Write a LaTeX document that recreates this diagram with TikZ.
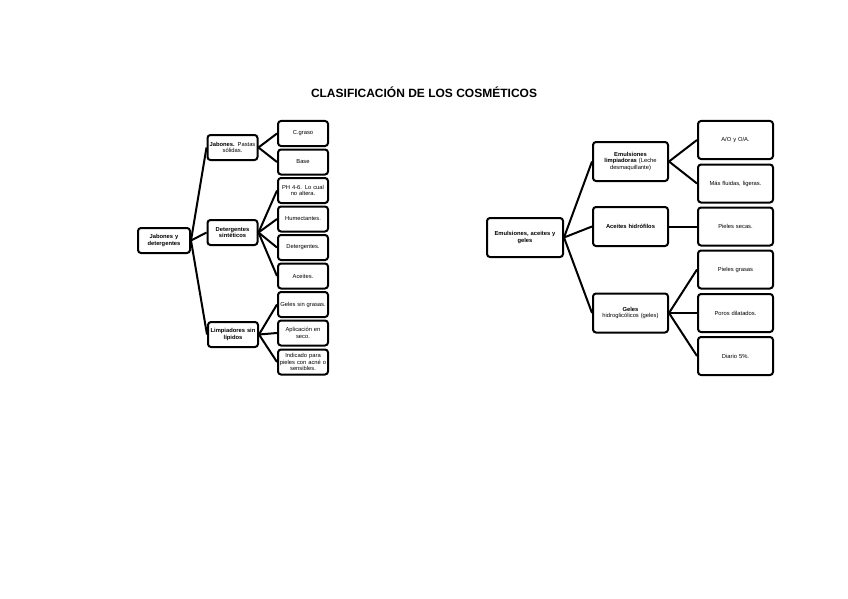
\documentclass[tikz,border=0pt]{standalone}
\usepackage{fontspec}
\setmainfont{Liberation Sans}
\begin{document}
\begin{tikzpicture}[x=1pt,y=-1pt,
  box/.style={draw=black, line width=2pt, rounded corners=3pt, inner sep=1pt, align=center,
              font=\fontsize{5.8}{6.6}\selectfont},
  lbox/.style={box, minimum width=50pt, minimum height=25pt, text width=48pt},
  rbox/.style={box, minimum width=75pt, minimum height=38pt, text width=72pt},
  conn/.style={line width=2pt, black}]
\path[use as bounding box, fill=white] (0,0) rectangle (848,599);

\node[font=\bfseries\fontsize{12}{14}\selectfont] (title) at (424,92) {CLASIFICACIÓN DE LOS COSMÉTICOS};

% Left tree
\node[lbox, minimum width=52pt] (rootL) at (164,240.5) {\textbf{Jabones y}\\\textbf{detergentes}};
\node[lbox] (jab) at (232.5,147.5) {\textbf{Jabones.} Pastas\\sólidas.};
\node[lbox] (det) at (232.5,232.5) {\textbf{Detergentes}\\\textbf{sintéticos}};
\node[lbox] (lim) at (233,334.5) {\textbf{Limpiadores sin}\\\textbf{lípidos}};

\node[lbox] (l1) at (303,133.5) {C.graso};
\node[lbox] (l2) at (303,162) {Base};
\node[lbox] (l3) at (303,190.5) {PH 4-6. Lo cual\\no altera.};
\node[lbox] (l4) at (303,219) {Humectantes.};
\node[lbox] (l5) at (303,247.5) {Detergentes.};
\node[lbox] (l6) at (303,276) {Aceites.};
\node[lbox] (l7) at (303,304.5) {Geles sin grasas.};
\node[lbox] (l8) at (303,333) {Aplicación en\\seco.};
\node[lbox] (l9) at (303,362) {Indicado para\\pieles con acné o\\sensibles.};

\foreach \c in {jab,det,lim} \draw[conn] (rootL.east) -- (\c.west);
\foreach \c in {l1,l2} \draw[conn] (jab.east) -- (\c.west);
\foreach \c in {l3,l4,l5,l6} \draw[conn] (det.east) -- (\c.west);
\foreach \c in {l7,l8,l9} \draw[conn] (lim.east) -- (\c.west);

% Right tree
\node[rbox, minimum width=76pt, minimum height=39pt] (rootR) at (525,237.5) {\textbf{Emulsiones, aceites y}\\\textbf{geles}};
\node[rbox, minimum height=39pt] (eml) at (630.5,161.5) {\textbf{Emulsiones}\\\textbf{limpiadoras} (Leche\\desmaquillante)};
\node[rbox, minimum height=39pt] (ach) at (630.5,226.5) {\textbf{Aceites hidrófilos}};
\node[rbox, minimum height=39pt] (geh) at (630.5,313) {\textbf{Geles}\\hidroglicólicos (geles)};

\node[rbox] (r1) at (735.5,140) {A/O y O/A.};
\node[rbox] (r2) at (735.5,183.5) {Más fluidas, ligeras.};
\node[rbox] (r3) at (735.5,226.5) {Pieles secas.};
\node[rbox] (r4) at (735.5,269.5) {Pieles grasas};
\node[rbox] (r5) at (735.5,313) {Poros dilatados.};
\node[rbox] (r6) at (735.5,356) {Diario 5\%.};

\foreach \c in {eml,ach,geh} \draw[conn] (rootR.east) -- (\c.west);
\foreach \c in {r1,r2} \draw[conn] (eml.east) -- (\c.west);
\draw[conn] (ach.east) -- (r3.west);
\foreach \c in {r4,r5,r6} \draw[conn] (geh.east) -- (\c.west);
\end{tikzpicture}
\end{document}
